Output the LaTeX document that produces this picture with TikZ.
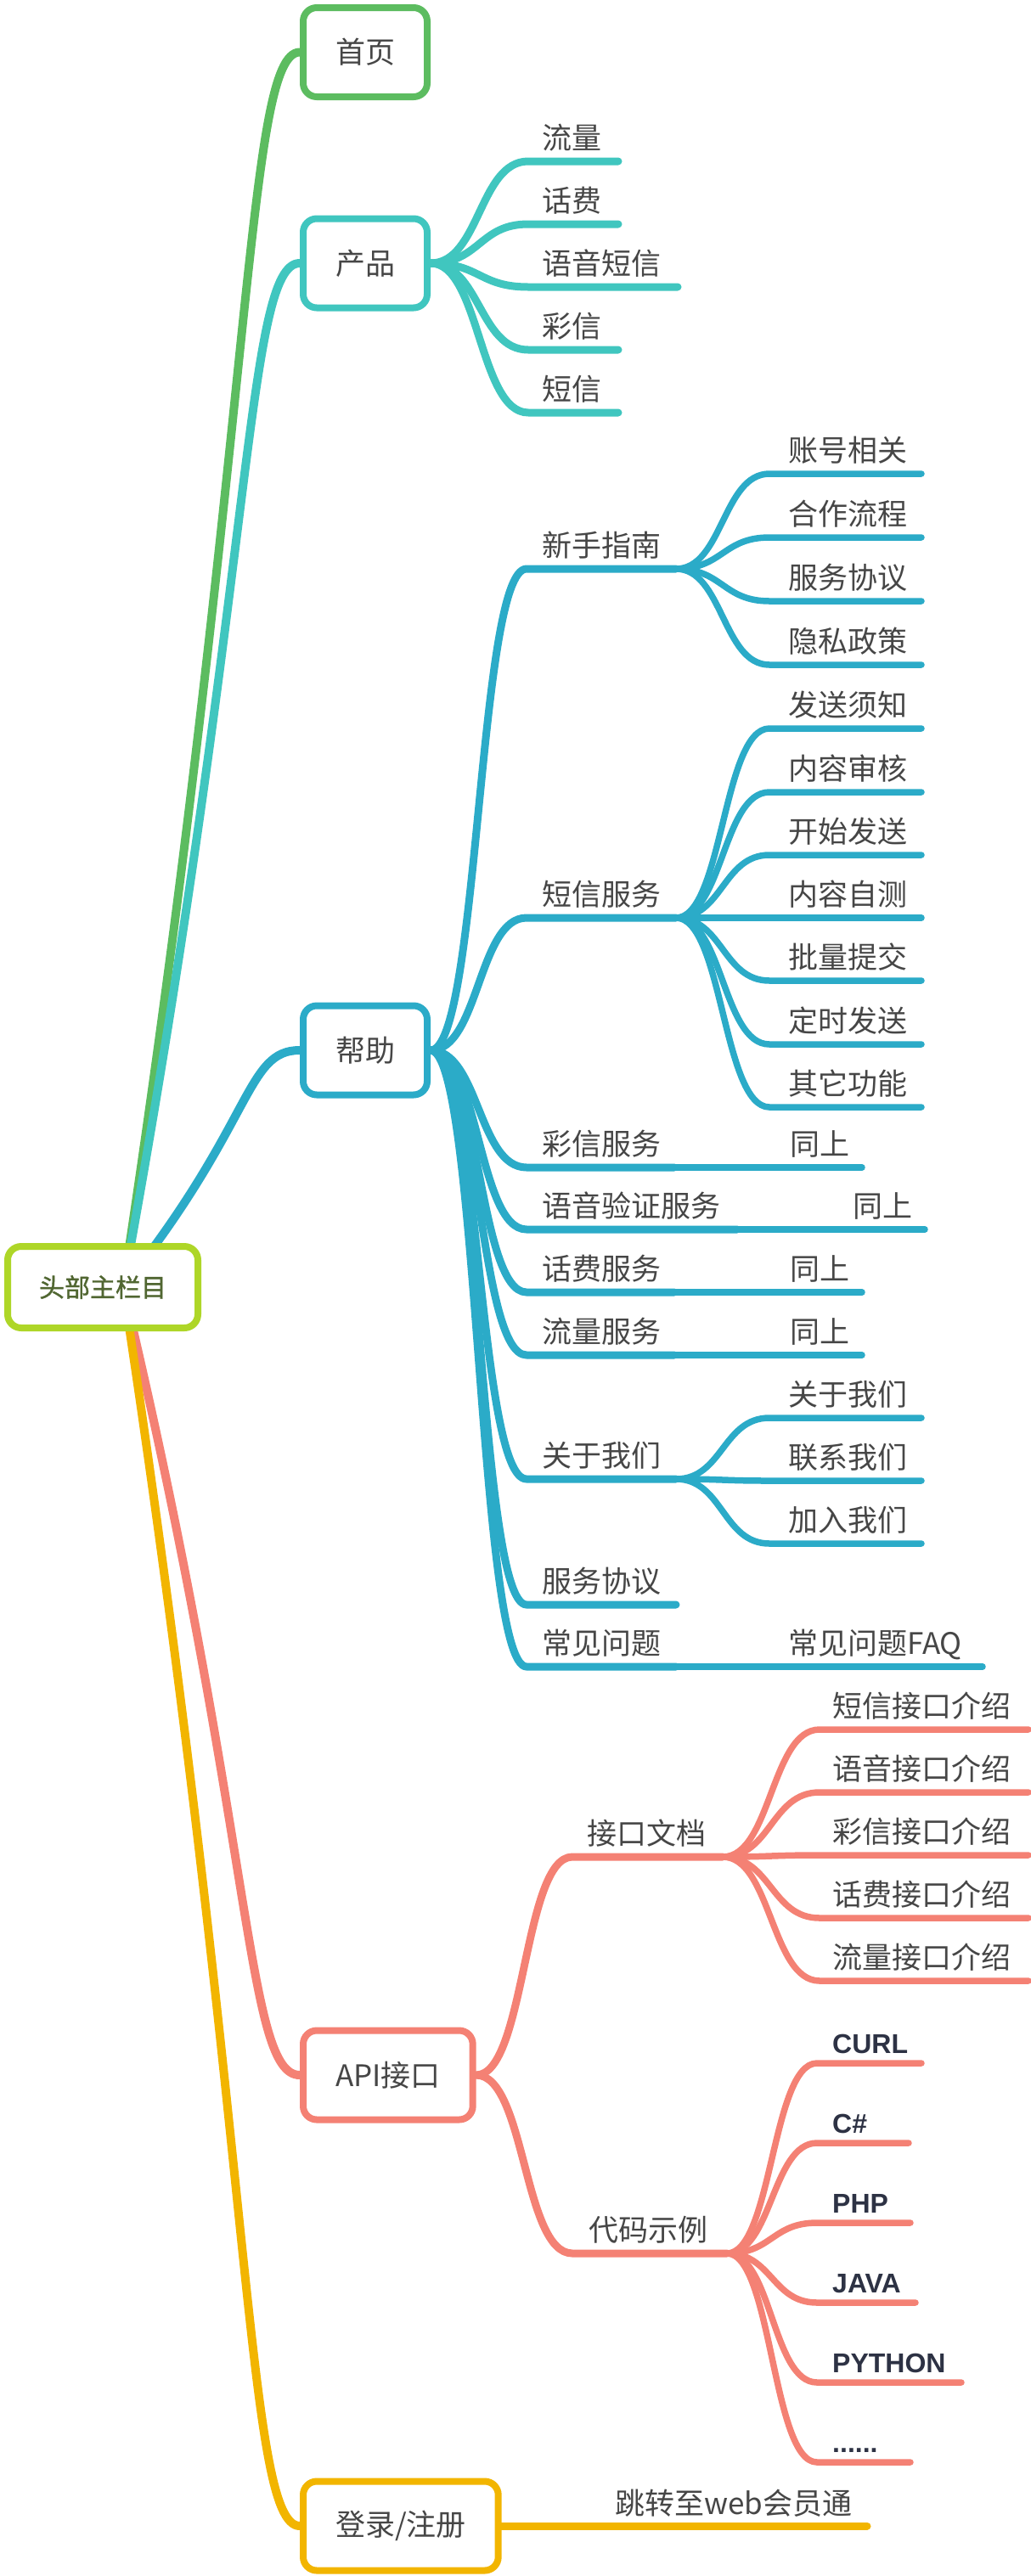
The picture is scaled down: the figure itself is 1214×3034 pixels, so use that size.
\documentclass[tikz,border=0pt]{standalone}
\usepackage{fontspec}
\setmainfont{Noto Sans CJK SC}
\newfontfamily\rootfont{Noto Sans CJK SC}[FakeBold=1.2]
\newfontfamily\codefont{Liberation Sans}
\usetikzlibrary{calc}
\pgfdeclarelayer{bg}
\pgfsetlayers{bg,main}
\definecolor{cgreen}{HTML}{5CBC60}
\definecolor{cteal}{HTML}{40C6BF}
\definecolor{cblue}{HTML}{2BABC8}
\definecolor{csalmon}{HTML}{F48174}
\definecolor{camber}{HTML}{F2B500}
\definecolor{clime}{HTML}{AED628}
\definecolor{colive}{HTML}{506631}
\definecolor{ctext}{HTML}{464646}
\definecolor{ccode}{HTML}{2D3244}
\tikzset{
 rootbox/.style={draw=clime, line width=8pt, fill=white, rounded corners=16pt, minimum height=96pt, inner xsep=37pt, inner ysep=0pt, text=colive, font=\rootfont\fontsize{30}{36}\selectfont},
 topbox/.style={line width=8pt, fill=white, rounded corners=16pt, minimum height=105pt, inner xsep=38pt, inner ysep=0pt, text=ctext, font=\fontsize{35}{42}\selectfont, anchor=west},
 lbl/.style={inner sep=0pt, text=ctext, font=\fontsize{35}{42}\selectfont},
 codelbl/.style={inner sep=0pt, text=ccode, font=\codefont\bfseries\fontsize{32}{38}\selectfont, yshift=-3pt},
 rb/.style={line width=10pt, line cap=round},
 ctwo/.style={line width=9pt, line cap=round, line join=round},
 cthree/.style={line width=7.5pt, line cap=round, line join=round},
}
% name, line start x, text x, line y, line end x, style, text
\newcommand\mmleaf[7]{%
  \coordinate (#1-s) at (#2,#4);
  \coordinate (#1-e) at (#5,#4);
  \node[#6, anchor=base west] (#1) at (#3,#4-15) {#7};
}
\begin{document}
\begin{tikzpicture}[x=1pt,y=-1pt]
\useasboundingbox (0,0) rectangle (1214,3034);
% root and first level
\node[rootbox] (root) at (121,1516) {头部主栏目};
\coordinate (ro) at ($(root.center)+(24,0)$);
\node[topbox, draw=cgreen] (shouye) at (353,61.5) {首页};
\node[topbox, draw=cteal] (chanpin) at (353,310) {产品};
\node[topbox, draw=cblue] (bangzhu) at (353,1237) {帮助};
\node[topbox, draw=csalmon] (api) at (353,2444) {API接口};
\node[topbox, draw=camber] (denglu) at (353,2975) {登录/注册};
% 产品
\mmleaf{ll}{622}{638}{190}{728}{lbl}{流量}
\mmleaf{hf}{622}{638}{264}{728}{lbl}{话费}
\mmleaf{yydx}{622}{638}{338}{798}{lbl}{语音短信}
\mmleaf{cx}{622}{638}{412}{728}{lbl}{彩信}
\mmleaf{dx}{622}{638}{486}{728}{lbl}{短信}
% 帮助
\mmleaf{xszn}{620}{638}{670}{796}{lbl}{新手指南}
\mmleaf{dxfw}{620}{638}{1081}{796}{lbl}{短信服务}
\mmleaf{cxfw}{620}{638}{1375}{794}{lbl}{彩信服务}
\mmleaf{yyyz}{620}{638}{1448}{868}{lbl}{语音验证服务}
\mmleaf{hffw}{620}{638}{1522}{794}{lbl}{话费服务}
\mmleaf{llfw}{620}{638}{1596}{794}{lbl}{流量服务}
\mmleaf{gywm}{620}{638}{1742}{796}{lbl}{关于我们}
\mmleaf{fwxy}{620}{638}{1890}{796}{lbl}{服务协议}
\mmleaf{cjwt}{620}{638}{1963}{796}{lbl}{常见问题}
% 新手指南
\mmleaf{zhxg}{906}{928}{558}{1085}{lbl}{账号相关}
\mmleaf{hzlc}{906}{928}{633}{1085}{lbl}{合作流程}
\mmleaf{fwxyb}{906}{928}{708}{1085}{lbl}{服务协议}
\mmleaf{yszc}{906}{928}{783}{1085}{lbl}{隐私政策}
% 短信服务
\mmleaf{fsxz}{906}{928}{858}{1085}{lbl}{发送须知}
\mmleaf{nrsh}{906}{928}{933}{1085}{lbl}{内容审核}
\mmleaf{ksfs}{906}{928}{1007}{1085}{lbl}{开始发送}
\mmleaf{nrzc}{906}{928}{1081}{1085}{lbl}{内容自测}
\mmleaf{pltj}{906}{928}{1155}{1085}{lbl}{批量提交}
\mmleaf{dsfs}{906}{928}{1230}{1085}{lbl}{定时发送}
\mmleaf{qtgn}{906}{928}{1304}{1085}{lbl}{其它功能}
% 同上
\mmleaf{tsa}{908}{930}{1375}{1015}{lbl}{同上}
\mmleaf{tsb}{982}{1004}{1448}{1089}{lbl}{同上}
\mmleaf{tsc}{908}{930}{1522}{1015}{lbl}{同上}
\mmleaf{tsd}{908}{930}{1596}{1015}{lbl}{同上}
% 关于我们
\mmleaf{gywmb}{906}{928}{1670}{1085}{lbl}{关于我们}
\mmleaf{lxwm}{906}{928}{1744}{1085}{lbl}{联系我们}
\mmleaf{jrwm}{906}{928}{1818}{1085}{lbl}{加入我们}
\mmleaf{faq}{906}{928}{1963}{1157}{lbl}{常见问题FAQ}
% API
\mmleaf{jkwd}{674}{691}{2187}{851}{lbl}{接口文档}
\mmleaf{dmsl}{674}{693}{2654}{856}{lbl}{代码示例}
\mmleaf{dxjk}{965}{980}{2037}{1211}{lbl}{短信接口介绍}
\mmleaf{yyjk}{965}{980}{2111}{1211}{lbl}{语音接口介绍}
\mmleaf{cxjk}{965}{980}{2185}{1211}{lbl}{彩信接口介绍}
\mmleaf{hfjk}{965}{980}{2259}{1211}{lbl}{话费接口介绍}
\mmleaf{lljk}{965}{980}{2333}{1211}{lbl}{流量接口介绍}
\mmleaf{curl}{962}{980}{2430}{1085}{codelbl}{CURL}
\mmleaf{csharp}{962}{980}{2524}{1070}{codelbl}{C\#}
\mmleaf{php}{962}{980}{2618}{1072}{codelbl}{PHP}
\mmleaf{java}{962}{980}{2712}{1078}{codelbl}{JAVA}
\mmleaf{python}{962}{980}{2806}{1132}{codelbl}{PYTHON}
\mmleaf{more}{962}{980}{2900}{1072}{codelbl}{......}
% 登录
\coordinate (tz-e) at (1021,2975);
\node[lbl, anchor=base west] (tz) at (724,2961) {跳转至web会员通};

\begin{pgfonlayer}{bg}
% root branches
\draw[rb, cgreen] (ro) .. controls +(155,-1018) and +(-64,0) .. (shouye.west);
\draw[rb, cteal] (ro) .. controls +(155,-844) and +(-64,0) .. (chanpin.west);
\draw[rb, cblue] (ro) .. controls +(155,-195) and +(-64,0) .. (bangzhu.west);
\draw[rb, csalmon] (ro) .. controls +(155,650) and +(-64,0) .. (api.west);
\draw[rb, camber] (ro) .. controls +(155,1021) and +(-64,0) .. (denglu.west);
% second level
\foreach \n in {ll,hf,yydx,cx,dx}
  \draw[ctwo, cteal] (chanpin.east) .. controls +(58,0) and +(-58,0) .. (\n-s) -- (\n-e);
\foreach \n in {xszn,dxfw,cxfw,yyyz,hffw,llfw,gywm,fwxy,cjwt}
  \draw[ctwo, cblue] (bangzhu.east) .. controls +(57,0) and +(-57,0) .. (\n-s) -- (\n-e);
\foreach \n in {jkwd,dmsl}
  \draw[ctwo, csalmon] (api.east) .. controls +(58,0) and +(-58,0) .. (\n-s) -- (\n-e);
\draw[ctwo, camber] (denglu.east) -- (tz-e);
% third level
\foreach \n in {zhxg,hzlc,fwxyb,yszc}
  \draw[cthree, cblue] (xszn-e) .. controls +(55,0) and +(-55,0) .. (\n-s) -- (\n-e);
\foreach \n in {fsxz,nrsh,ksfs,nrzc,pltj,dsfs,qtgn}
  \draw[cthree, cblue] (dxfw-e) .. controls +(55,0) and +(-55,0) .. (\n-s) -- (\n-e);
\foreach \n in {gywmb,lxwm,jrwm}
  \draw[cthree, cblue] (gywm-e) .. controls +(55,0) and +(-55,0) .. (\n-s) -- (\n-e);
\draw[cthree, cblue] (cxfw-e) -- (tsa-e);
\draw[cthree, cblue] (yyyz-e) -- (tsb-e);
\draw[cthree, cblue] (hffw-e) -- (tsc-e);
\draw[cthree, cblue] (llfw-e) -- (tsd-e);
\draw[cthree, cblue] (cjwt-e) -- (faq-s) -- (faq-e);
\foreach \n in {dxjk,yyjk,cxjk,hfjk,lljk}
  \draw[cthree, csalmon] (jkwd-e) .. controls +(57,0) and +(-57,0) .. (\n-s) -- (\n-e);
\foreach \n in {curl,csharp,php,java,python,more}
  \draw[cthree, csalmon] (dmsl-e) .. controls +(53,0) and +(-53,0) .. (\n-s) -- (\n-e);
\end{pgfonlayer}
\end{tikzpicture}
\end{document}
